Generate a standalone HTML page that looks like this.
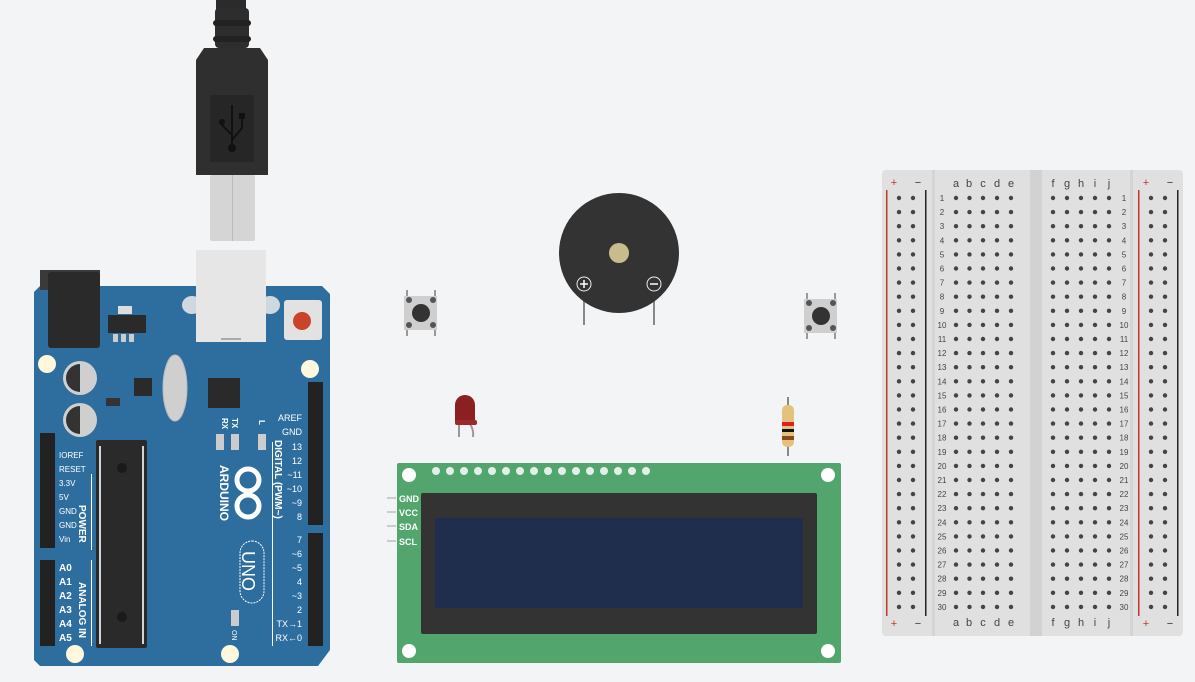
<!DOCTYPE html>
<html><head><meta charset="utf-8"><style>
html,body{margin:0;padding:0;background:#f2f4f6;}
svg{display:block;font-family:"Liberation Sans",sans-serif;}
</style></head><body>
<svg width="1195" height="682" viewBox="0 0 1195 682" xmlns="http://www.w3.org/2000/svg">
<rect width="1195" height="682" fill="#f2f4f6"/>

<!-- USB cable -->
<rect x="216" y="0" width="30" height="12" fill="#2b2b2b"/>
<rect x="215" y="8" width="34" height="40" rx="4" fill="#2d2d2d"/>
<rect x="213" y="20" width="38" height="6" rx="3" fill="#222"/>
<rect x="213" y="36" width="38" height="6" rx="3" fill="#222"/>
<path d="M204 48 H260 L268 60 V175 H196 V60 Z" fill="#2f2f2f"/>
<rect x="210" y="95" width="44" height="67" fill="#262626"/>
<g stroke="#111" stroke-width="2" fill="none"><path d="M232 105 V150 M232 135 L222 125 V120 M232 140 L242 128 V118"/></g>
<circle cx="232" cy="148" r="4" fill="#111"/><circle cx="222" cy="122" r="3" fill="#111"/><rect x="239" y="113" width="6" height="6" fill="#111"/>
<rect x="210" y="175" width="45" height="66" rx="2" fill="#d5d5d5"/>
<rect x="232" y="175" width="1" height="66" fill="#bbb"/>

<!-- Arduino board -->
<path d="M40 286 H322 L330 294 V650 L318 666 H40 L34 660 V292 Z" fill="#2d6e9f"/>
<ellipse cx="192" cy="305" rx="10" ry="9" fill="#cfd7df"/><ellipse cx="270" cy="305" rx="10" ry="9" fill="#cfd7df"/>
<rect x="196" y="250" width="70" height="92" fill="#e6e6e6"/>
<rect x="221" y="338" width="20" height="2" fill="#aaa"/>
<rect x="40" y="270" width="60" height="20" fill="#3a3a3a"/>
<rect x="48" y="272" width="52" height="76" rx="3" fill="#2a2a2a"/>
<rect x="118" y="306" width="14" height="8" fill="#ddd"/>
<rect x="108" y="315" width="38" height="18" fill="#2a2a2a"/>
<rect x="113" y="334" width="5" height="8" fill="#ccc"/><rect x="121" y="334" width="5" height="8" fill="#ccc"/><rect x="129" y="334" width="5" height="8" fill="#ccc"/>
<rect x="284" y="300" width="38" height="40" rx="3" fill="#e2e2e2"/>
<circle cx="302" cy="321" r="9" fill="#c8452b"/>
<circle cx="47" cy="364" r="9" fill="#fff8dc"/>
<circle cx="310" cy="369" r="9" fill="#fff8dc"/>
<circle cx="75" cy="654" r="9" fill="#fff8dc"/>
<circle cx="230" cy="654" r="9" fill="#fff8dc"/>
<circle cx="80" cy="378" r="17" fill="#cfcfcf"/><path d="M80 364 A14 14 0 0 0 80 392 Z" fill="#333"/>
<circle cx="80" cy="420" r="17" fill="#cfcfcf"/><path d="M80 406 A14 14 0 0 0 80 434 Z" fill="#333"/>
<rect x="134" y="378" width="18" height="18" fill="#2a2a2a"/>
<rect x="106" y="398" width="14" height="8" fill="#333"/>
<ellipse cx="175" cy="388" rx="12" ry="33" fill="#cfcfcf" stroke="#bbb"/>
<rect x="208" y="378" width="32" height="30" fill="#2a2a2a"/>
<rect x="216" y="434" width="8" height="16" fill="#ccc"/><rect x="231" y="434" width="8" height="16" fill="#ccc"/><rect x="258" y="434" width="8" height="16" fill="#ccc"/>
<g fill="#fff" font-size="8" font-weight="bold"><text transform="translate(222,418) rotate(90)">RX</text><text transform="translate(232,418) rotate(90)">TX</text><text transform="translate(259,420) rotate(90)">L</text></g>
<rect x="96" y="440" width="51" height="208" rx="2" fill="#2a2a2a"/>
<circle cx="122" cy="468" r="5" fill="#1a1a1a"/><circle cx="122" cy="617" r="5" fill="#1a1a1a"/>
<g fill="#fff"><rect x="99" y="446" width="2" height="198" opacity=".8"/><rect x="142" y="446" width="2" height="198" opacity=".8"/></g>
<rect x="40" y="433" width="15" height="115" fill="#222"/>
<rect x="40" y="560" width="15" height="86" fill="#222"/>
<rect x="308" y="382" width="15" height="143" fill="#222"/>
<rect x="308" y="533" width="15" height="113" fill="#222"/>
<g fill="#fff" font-size="8">
<text x="59" y="458">IOREF</text><text x="59" y="472">RESET</text><text x="59" y="486">3.3V</text><text x="59" y="500">5V</text><text x="59" y="514">GND</text><text x="59" y="528">GND</text><text x="59" y="542">Vin</text>
</g>
<g fill="#fff" font-size="10" font-weight="bold">
<text x="59" y="571">A0</text><text x="59" y="585">A1</text><text x="59" y="599">A2</text><text x="59" y="613">A3</text><text x="59" y="627">A4</text><text x="59" y="641">A5</text>
</g>
<rect x="91" y="474" width="1" height="76" fill="#fff"/><rect x="91" y="560" width="1" height="86" fill="#fff"/>
<g fill="#fff" font-size="10" font-weight="bold"><text transform="translate(79,505) rotate(90)">POWER</text><text transform="translate(79,582) rotate(90)">ANALOG IN</text>
<text transform="translate(220,465) rotate(90)" font-size="12">ARDUINO</text>
<text transform="translate(275,440) rotate(90)" font-size="10">DIGITAL (PWM~)</text></g>
<g fill="#fff" font-size="9" text-anchor="end">
<text x="302" y="421">AREF</text><text x="302" y="435">GND</text><text x="302" y="450">13</text><text x="302" y="464">12</text><text x="302" y="478">~11</text><text x="302" y="492">~10</text><text x="302" y="506">~9</text><text x="302" y="520">8</text>
<text x="302" y="543">7</text><text x="302" y="557">~6</text><text x="302" y="571">~5</text><text x="302" y="585">4</text><text x="302" y="599">~3</text><text x="302" y="613">2</text><text x="302" y="627">TX→1</text><text x="302" y="641">RX←0</text>
</g>
<rect x="272" y="442" width="1" height="204" fill="#fff"/>
<circle cx="248" cy="480" r="11" fill="none" stroke="#fff" stroke-width="5"/>
<circle cx="248" cy="506" r="11" fill="none" stroke="#fff" stroke-width="5"/>
<rect x="240" y="541" width="24" height="62" rx="12" fill="none" stroke="#fff" stroke-width="1" stroke-dasharray="2 1"/>
<text transform="translate(242,551) rotate(90)" fill="#fff" font-size="18">UNO</text>
<rect x="231" y="610" width="8" height="16" fill="#ccc"/>
<text transform="translate(232,630) rotate(90)" fill="#fff" font-size="7">ON</text>

<!-- buzzer -->
<rect x="583" y="295" width="2" height="30" fill="#888"/><rect x="653" y="295" width="2" height="30" fill="#888"/>
<circle cx="619" cy="253" r="60" fill="#333"/>
<circle cx="619" cy="253" r="10" fill="#c9bc8c"/>
<circle cx="584" cy="284" r="7" fill="none" stroke="#eee" stroke-width="1"/><path d="M580 284 H588 M584 280 V288" stroke="#fff" stroke-width="1.5"/>
<circle cx="654" cy="284" r="7" fill="none" stroke="#eee" stroke-width="1"/><path d="M650 284 H658" stroke="#fff" stroke-width="1.5"/>

<!-- buttons -->
<g id="b1">
<rect x="406" y="290" width="2" height="46" fill="#999"/><rect x="434" y="290" width="2" height="46" fill="#999"/>
<rect x="404" y="296" width="33" height="34" fill="#cfcfcf"/>
<circle cx="421" cy="313" r="9" fill="#333"/>
<circle cx="409" cy="300" r="3" fill="#555"/><circle cx="433" cy="300" r="3" fill="#555"/><circle cx="409" cy="325" r="3" fill="#555"/><circle cx="433" cy="325" r="3" fill="#555"/>
</g>
<use href="#b1" transform="translate(400,3)"/>

<!-- LED -->
<path d="M459 437 V420 M473 437 Q474 430 470 424" stroke="#999" stroke-width="2" fill="none"/>
<path d="M455 422 V405 A10 10 0 0 1 475 405 V422 Z" fill="#8a2020"/>
<rect x="455" y="420" width="22" height="5" rx="2" fill="#9c2a2a"/>

<!-- resistor -->
<rect x="787" y="397" width="2" height="59" fill="#888"/>
<rect x="782" y="405" width="12" height="42" rx="5" fill="#e3c27d"/>
<rect x="782" y="422" width="12" height="4" fill="#e02020"/>
<rect x="782" y="429" width="12" height="3" fill="#111"/>
<rect x="782" y="436" width="12" height="4" fill="#8a4a1a"/>

<!-- LCD -->
<g fill="#ccc"><rect x="387" y="497" width="9" height="2"/><rect x="387" y="511" width="9" height="2"/><rect x="387" y="525" width="9" height="2"/><rect x="387" y="540" width="9" height="2"/></g>
<rect x="397" y="463" width="444" height="200" rx="2" fill="#52a56c"/>
<g fill="#e4efe6">
<circle cx="436" cy="471" r="4"/><circle cx="450" cy="471" r="4"/><circle cx="464" cy="471" r="4"/><circle cx="478" cy="471" r="4"/><circle cx="492" cy="471" r="4"/><circle cx="506" cy="471" r="4"/><circle cx="520" cy="471" r="4"/><circle cx="534" cy="471" r="4"/><circle cx="548" cy="471" r="4"/><circle cx="562" cy="471" r="4"/><circle cx="576" cy="471" r="4"/><circle cx="590" cy="471" r="4"/><circle cx="604" cy="471" r="4"/><circle cx="618" cy="471" r="4"/><circle cx="632" cy="471" r="4"/><circle cx="646" cy="471" r="4"/>
</g>
<g fill="#fff"><circle cx="409" cy="475" r="7"/><circle cx="828" cy="475" r="7"/><circle cx="409" cy="651" r="7"/><circle cx="828" cy="651" r="7"/></g>
<rect x="421" y="493" width="396" height="141" rx="2" fill="#333"/>
<rect x="435" y="518" width="368" height="90" fill="#1f2e4c"/>
<g fill="#fff" font-size="9" font-weight="bold"><text x="399" y="502">GND</text><text x="399" y="516">VCC</text><text x="399" y="530">SDA</text><text x="399" y="545">SCL</text></g>

<!-- Breadboard -->
<rect x="882" y="170" width="301" height="466" rx="4" fill="#e0e0e0"/>
<rect x="932" y="170" width="3" height="466" fill="#d4d4d4"/>
<rect x="1030" y="170" width="12" height="466" fill="#d2d2d2"/>
<rect x="1130" y="170" width="3" height="466" fill="#d4d4d4"/>
<rect x="886" y="190" width="1.5" height="426" fill="#c0392b"/>
<rect x="925" y="190" width="1.5" height="426" fill="#222"/>
<rect x="1138" y="190" width="1.5" height="426" fill="#c0392b"/>
<rect x="1177" y="190" width="1.5" height="426" fill="#222"/>
<g font-size="11" text-anchor="middle">
<text x="894" y="186" fill="#c0392b">+</text><text x="918" y="186" fill="#333">−</text>
<text x="1146" y="186" fill="#c0392b">+</text><text x="1170" y="186" fill="#333">−</text>
<text x="894" y="627" fill="#c0392b">+</text><text x="918" y="627" fill="#333">−</text>
<text x="1146" y="627" fill="#c0392b">+</text><text x="1170" y="627" fill="#333">−</text>
</g>
<g font-size="11" fill="#444" text-anchor="middle">
<text x="956" y="187">a</text><text x="969" y="187">b</text><text x="983" y="187">c</text><text x="997" y="187">d</text><text x="1011" y="187">e</text>
<text x="1053" y="187">f</text><text x="1067" y="187">g</text><text x="1081" y="187">h</text><text x="1095" y="187">i</text><text x="1109" y="187">j</text>
<text x="956" y="626">a</text><text x="969" y="626">b</text><text x="983" y="626">c</text><text x="997" y="626">d</text><text x="1011" y="626">e</text>
<text x="1053" y="626">f</text><text x="1067" y="626">g</text><text x="1081" y="626">h</text><text x="1095" y="626">i</text><text x="1109" y="626">j</text>
</g>
<defs>
<g id="row">
<g fill="#444"><circle cx="899" cy="0" r="2.2"/><circle cx="913" cy="0" r="2.2"/>
<circle cx="956" cy="0" r="2.2"/><circle cx="969.5" cy="0" r="2.2"/><circle cx="983" cy="0" r="2.2"/><circle cx="997" cy="0" r="2.2"/><circle cx="1011" cy="0" r="2.2"/>
<circle cx="1053" cy="0" r="2.2"/><circle cx="1067" cy="0" r="2.2"/><circle cx="1081" cy="0" r="2.2"/><circle cx="1095" cy="0" r="2.2"/><circle cx="1109" cy="0" r="2.2"/>
<circle cx="1151" cy="0" r="2.2"/><circle cx="1165" cy="0" r="2.2"/></g>
</g>
</defs>
<g font-size="8" fill="#444" text-anchor="middle">
<use href="#row" y="198"/><text x="942" y="201">1</text><text x="1124" y="201">1</text>
<use href="#row" y="212.1"/><text x="942" y="215.1">2</text><text x="1124" y="215.1">2</text>
<use href="#row" y="226.2"/><text x="942" y="229.2">3</text><text x="1124" y="229.2">3</text>
<use href="#row" y="240.3"/><text x="942" y="243.3">4</text><text x="1124" y="243.3">4</text>
<use href="#row" y="254.4"/><text x="942" y="257.4">5</text><text x="1124" y="257.4">5</text>
<use href="#row" y="268.5"/><text x="942" y="271.5">6</text><text x="1124" y="271.5">6</text>
<use href="#row" y="282.6"/><text x="942" y="285.6">7</text><text x="1124" y="285.6">7</text>
<use href="#row" y="296.7"/><text x="942" y="299.7">8</text><text x="1124" y="299.7">8</text>
<use href="#row" y="310.8"/><text x="942" y="313.8">9</text><text x="1124" y="313.8">9</text>
<use href="#row" y="324.9"/><text x="942" y="327.9">10</text><text x="1124" y="327.9">10</text>
<use href="#row" y="339"/><text x="942" y="342">11</text><text x="1124" y="342">11</text>
<use href="#row" y="353.1"/><text x="942" y="356.1">12</text><text x="1124" y="356.1">12</text>
<use href="#row" y="367.2"/><text x="942" y="370.2">13</text><text x="1124" y="370.2">13</text>
<use href="#row" y="381.3"/><text x="942" y="384.3">14</text><text x="1124" y="384.3">14</text>
<use href="#row" y="395.4"/><text x="942" y="398.4">15</text><text x="1124" y="398.4">15</text>
<use href="#row" y="409.5"/><text x="942" y="412.5">16</text><text x="1124" y="412.5">16</text>
<use href="#row" y="423.6"/><text x="942" y="426.6">17</text><text x="1124" y="426.6">17</text>
<use href="#row" y="437.7"/><text x="942" y="440.7">18</text><text x="1124" y="440.7">18</text>
<use href="#row" y="451.8"/><text x="942" y="454.8">19</text><text x="1124" y="454.8">19</text>
<use href="#row" y="465.9"/><text x="942" y="468.9">20</text><text x="1124" y="468.9">20</text>
<use href="#row" y="480"/><text x="942" y="483">21</text><text x="1124" y="483">21</text>
<use href="#row" y="494.1"/><text x="942" y="497.1">22</text><text x="1124" y="497.1">22</text>
<use href="#row" y="508.2"/><text x="942" y="511.2">23</text><text x="1124" y="511.2">23</text>
<use href="#row" y="522.3"/><text x="942" y="525.3">24</text><text x="1124" y="525.3">24</text>
<use href="#row" y="536.4"/><text x="942" y="539.4">25</text><text x="1124" y="539.4">25</text>
<use href="#row" y="550.5"/><text x="942" y="553.5">26</text><text x="1124" y="553.5">26</text>
<use href="#row" y="564.6"/><text x="942" y="567.6">27</text><text x="1124" y="567.6">27</text>
<use href="#row" y="578.7"/><text x="942" y="581.7">28</text><text x="1124" y="581.7">28</text>
<use href="#row" y="592.8"/><text x="942" y="595.8">29</text><text x="1124" y="595.8">29</text>
<use href="#row" y="606.9"/><text x="942" y="609.9">30</text><text x="1124" y="609.9">30</text>
</g>
</svg>
</body></html>
